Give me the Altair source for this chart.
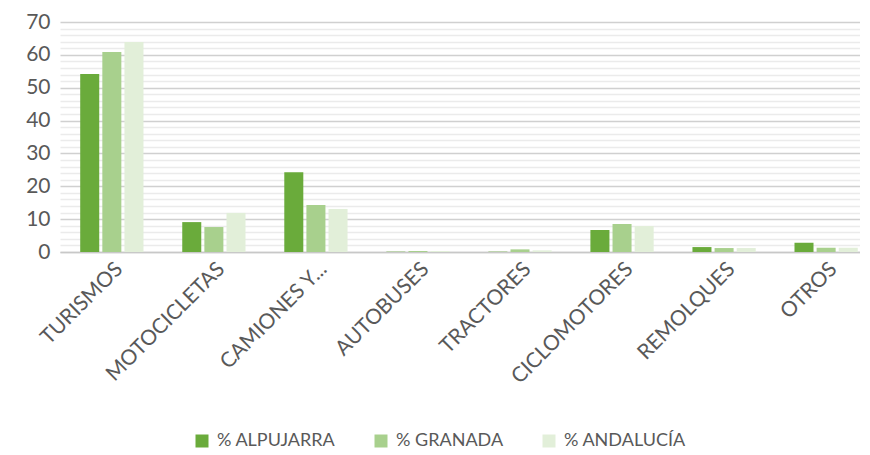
import altair as alt
import pandas as pd

categories = ["TURISMOS", "MOTOCICLETAS", "CAMIONES Y...", "AUTOBUSES",
              "TRACTORES", "CICLOMOTORES", "REMOLQUES", "OTROS"]
series = ["% ALPUJARRA", "% GRANADA", "% ANDALUCÍA"]
alpujarra = [54.2, 9.1, 24.3, 0.1, 0.1, 6.7, 1.5, 2.8]
granada = [60.9, 7.6, 14.3, 0.3, 0.8, 8.5, 1.2, 1.3]
andalucia = [63.9, 11.9, 13.1, 0.3, 0.5, 7.9, 1.2, 1.3]
colors = ["#6aab3b", "#a8d08d", "#e2efd9"]
y_ticks = list(range(0, 71, 2))

rows = []
for name, vals in zip(series, [alpujarra, granada, andalucia]):
    for c, v in zip(categories, vals):
        rows.append({"cat": c, "serie": name, "val": v})
df = pd.DataFrame(rows)

font = "Lato"
grey = "#595959"

chart = alt.Chart(df).mark_bar().encode(
    x=alt.X("cat:N", sort=categories, title=None,
            scale=alt.Scale(paddingInner=0.38, paddingOuter=0.11, align=0.9),
            axis=alt.Axis(labelAngle=-45, labelFontSize=21, labelColor=grey,
                          labelFont=font, ticks=False, domainColor="#c8c8c8",
                          domainWidth=1.3, labelPadding=6, labelLimit=250)),
    xOffset=alt.XOffset("serie:N", sort=series,
                        scale=alt.Scale(paddingInner=0.14)),
    y=alt.Y("val:Q", title=None,
            scale=alt.Scale(domain=[0, 70], nice=False),
            axis=alt.Axis(values=y_ticks, domain=False, ticks=False,
                          labelExpr="datum.value % 10 === 0 ? datum.label : ''",
                          labelFontSize=21, labelColor=grey, labelFont=font,
                          labelPadding=10,
                          gridColor=alt.condition("datum.value % 10 === 0",
                                                  alt.value("#d0d0d0"),
                                                  alt.value("#ebebeb")),
                          gridWidth=1.3)),
    color=alt.Color("serie:N", sort=series,
                    scale=alt.Scale(domain=series, range=colors),
                    legend=alt.Legend(title=None, orient="none",
                                      legendX=133, legendY=410,
                                      direction="horizontal",
                                      symbolType="square", symbolSize=169,
                                      symbolStrokeWidth=0,
                                      labelFontSize=18, labelColor=grey,
                                      labelFont=font, columnPadding=36,
                                      labelOffset=6)),
).properties(
    width=800, height=230,
    autosize=alt.AutoSizeParams(type="none"),
    padding={"left": 52, "top": 14, "right": 0, "bottom": 202},
).configure_view(stroke=None)

chart.save("out.html", embed_options={"renderer": "svg", "actions": False})
